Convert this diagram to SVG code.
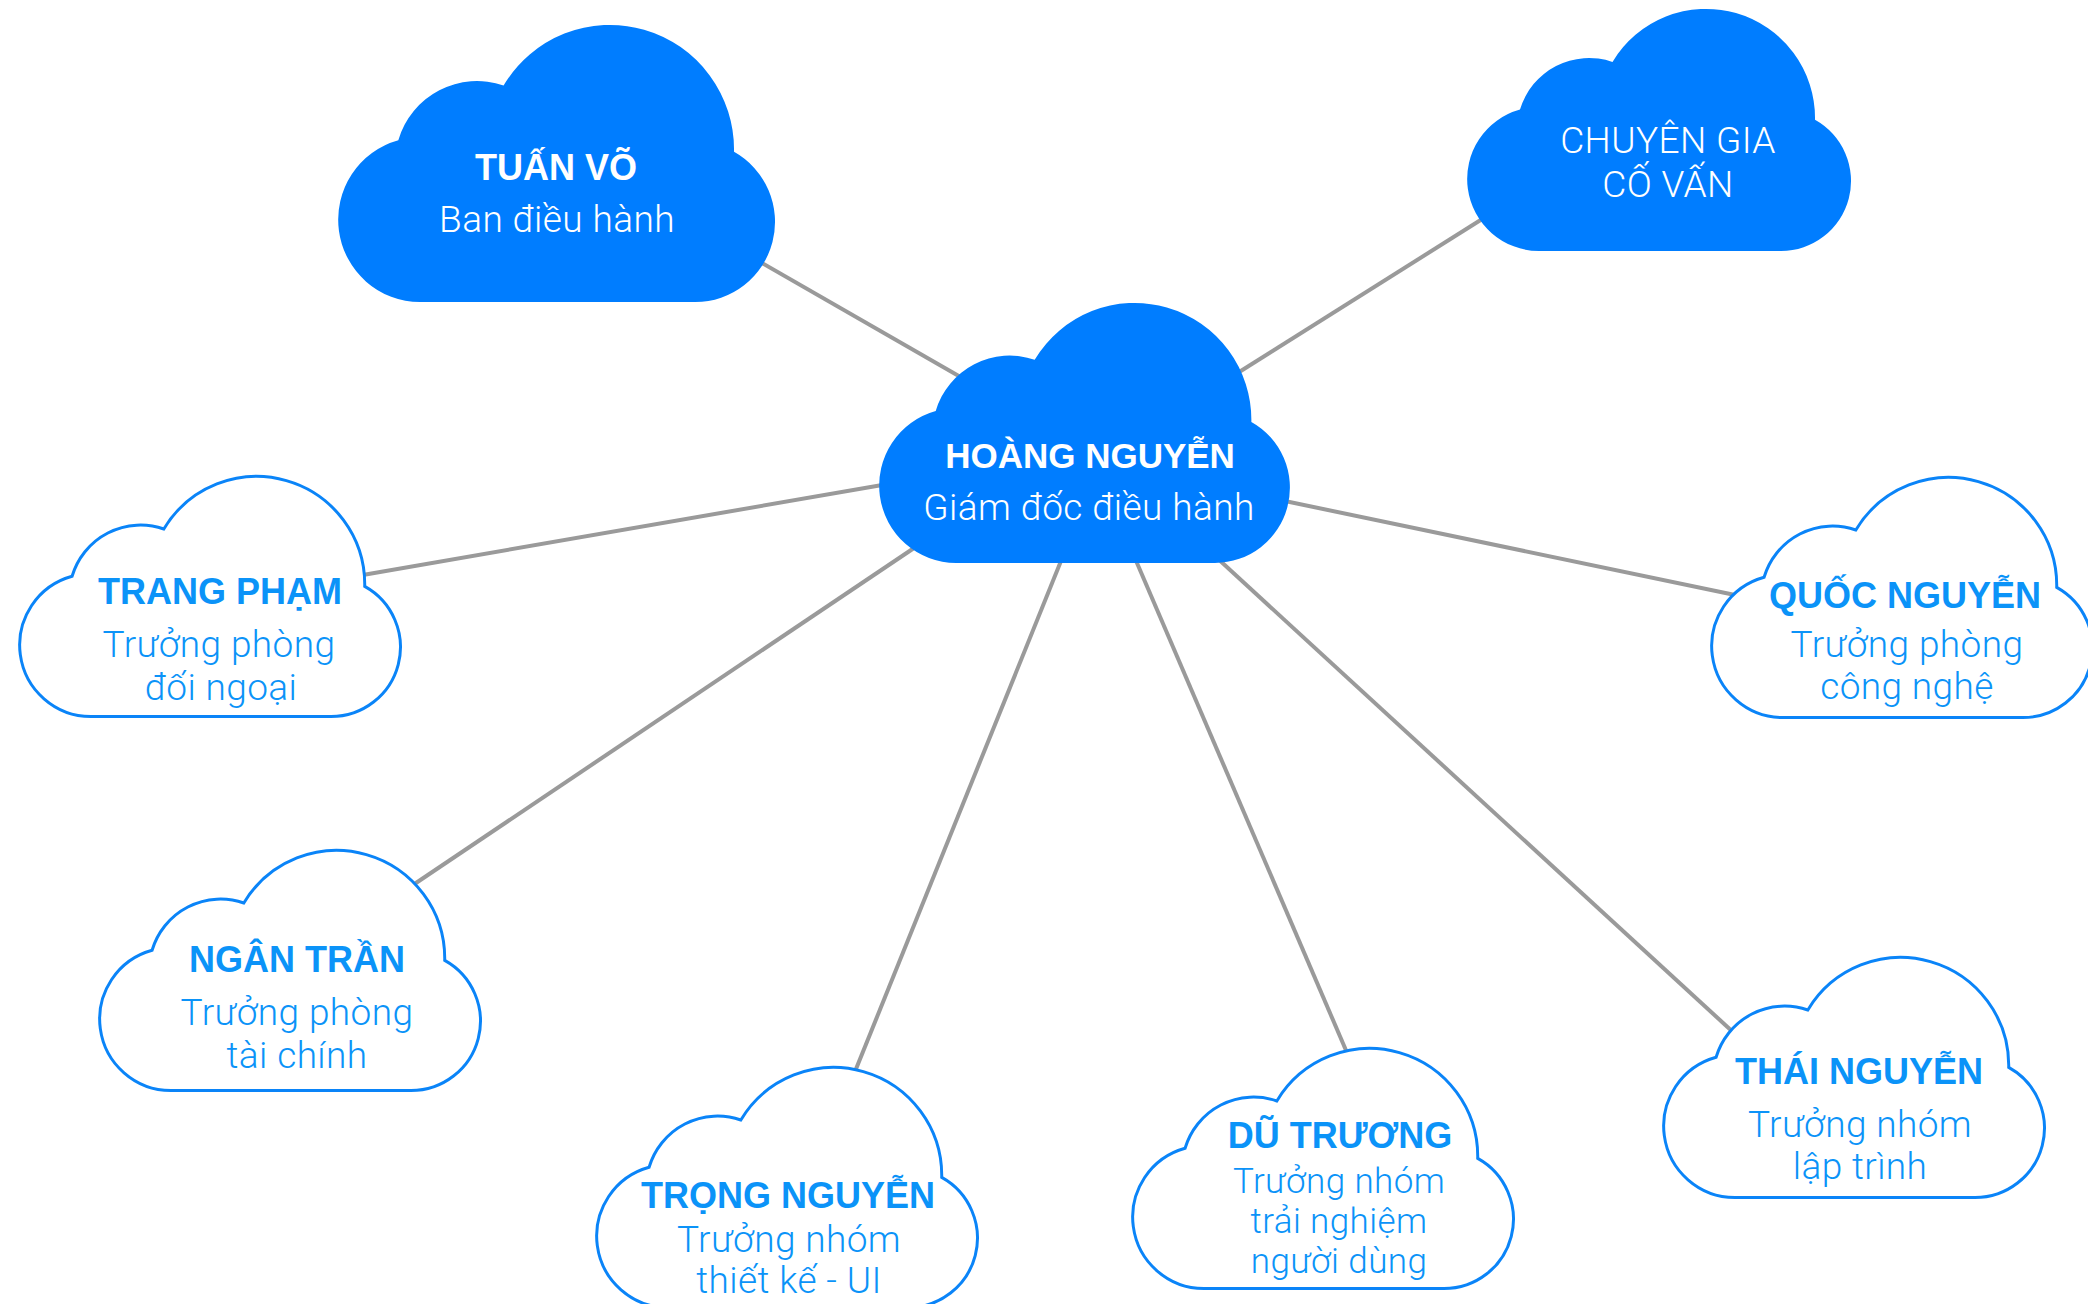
<svg xmlns="http://www.w3.org/2000/svg" xmlns:xlink="http://www.w3.org/1999/xlink" width="2088" height="1304" viewBox="0 0 2088 1304">
<style>
.conn{stroke:#9a9a9a;stroke-width:4;fill:none;stroke-linecap:butt}
.filled{fill:#007dff}
.outline{fill:#ffffff;stroke:#0a84f8;stroke-width:3}
text{font-family:"Liberation Sans",Arial,sans-serif;font-size:36px;text-anchor:middle}
.nw{fill:#ffffff;font-weight:bold}
.sw{fill:#ffffff;font-family:Roboto,"Liberation Sans",sans-serif;font-weight:300;font-size:37px;letter-spacing:0.4px}
.nb{fill:#0b93f8;font-weight:bold}
.sb{fill:#0b93f8;font-family:Roboto,"Liberation Sans",sans-serif;font-weight:300;font-size:37px;letter-spacing:0.4px}
</style>
<defs>
<path id="cloud" d="M72,242 A72,72 0 0 1 53,100.6 A72,72 0 0 1 145.5,52.9 A109,109 0 0 1 348,110.8 A70,70 0 0 1 314,242 Z"/>
</defs>
<rect width="2088" height="1304" fill="#ffffff"/>
<g id="connectors">
<line class="conn" x1="755" y1="259" x2="964" y2="379"/>
<line class="conn" x1="1487" y1="216" x2="1236" y2="374"/>
<line class="conn" x1="357" y1="576" x2="888" y2="484"/>
<line class="conn" x1="1735" y1="595" x2="1280" y2="500"/>
<line class="conn" x1="410" y1="887" x2="920" y2="544"/>
<line class="conn" x1="854" y1="1074" x2="1063" y2="556"/>
<line class="conn" x1="1348" y1="1055" x2="1134" y2="556"/>
<line class="conn" x1="1734" y1="1033" x2="1216" y2="557"/>
</g>
<g id="node-tuan-vo">
<use xlink:href="#cloud" href="#cloud" class="filled" transform="translate(338,25) scale(1.138,1.145)"/>
<text class="nw" x="556" y="180">TUẤN VÕ</text>
<text class="sw" x="557" y="232">Ban điều hành</text>
</g>
<g id="node-chuyen-gia">
<use xlink:href="#cloud" href="#cloud" class="filled" transform="translate(1467,9)"/>
<text class="sw" x="1668" y="153">CHUYÊN GIA</text>
<text class="sw" x="1668" y="197">CỐ VẤN</text>
</g>
<g id="node-hoang-nguyen">
<use xlink:href="#cloud" href="#cloud" class="filled" transform="translate(879,303) scale(1.07,1.074)"/>
<text class="nw" x="1090" y="468" style="font-size:35px">HOÀNG NGUYỄN</text>
<text class="sw" x="1089" y="520">Giám đốc điều hành</text>
</g>
<g id="node-trang-pham">
<use xlink:href="#cloud" href="#cloud" class="outline" transform="translate(19.5,476.5) scale(0.992)"/>
<text class="nb" x="220" y="604">TRANG PHẠM</text>
<text class="sb" x="219" y="657">Trưởng phòng</text>
<text class="sb" x="221" y="700">đối ngoại</text>
</g>
<g id="node-quoc-nguyen">
<use xlink:href="#cloud" href="#cloud" class="outline" transform="translate(1711.5,477.5) scale(0.992)"/>
<text class="nb" x="1905" y="608">QUỐC NGUYỄN</text>
<text class="sb" x="1907" y="657">Trưởng phòng</text>
<text class="sb" x="1907" y="699">công nghệ</text>
</g>
<g id="node-ngan-tran">
<use xlink:href="#cloud" href="#cloud" class="outline" transform="translate(99.5,850.5) scale(0.992)"/>
<text class="nb" x="297" y="972">NGÂN TRẦN</text>
<text class="sb" x="297" y="1025">Trưởng phòng</text>
<text class="sb" x="297" y="1068">tài chính</text>
</g>
<g id="node-trong-nguyen">
<use xlink:href="#cloud" href="#cloud" class="outline" transform="translate(596.5,1067.5) scale(0.992)"/>
<text class="nb" x="788" y="1208">TRỌNG NGUYỄN</text>
<text class="sb" x="789" y="1252">Trưởng nhóm</text>
<text class="sb" x="789" y="1293">thiết kế - UI</text>
</g>
<g id="node-du-truong">
<use xlink:href="#cloud" href="#cloud" class="outline" transform="translate(1132.5,1048.5) scale(0.992)"/>
<text class="nb" x="1340" y="1148">DŨ TRƯƠNG</text>
<text class="sb" x="1339" y="1193" style="font-size:35px">Trưởng nhóm</text>
<text class="sb" x="1339" y="1233" style="font-size:35px">trải nghiệm</text>
<text class="sb" x="1339" y="1273" style="font-size:35px">người dùng</text>
</g>
<g id="node-thai-nguyen">
<use xlink:href="#cloud" href="#cloud" class="outline" transform="translate(1663.5,957.5) scale(0.992)"/>
<text class="nb" x="1859" y="1084">THÁI NGUYỄN</text>
<text class="sb" x="1860" y="1137">Trưởng nhóm</text>
<text class="sb" x="1860" y="1179">lập trình</text>
</g>
</svg>
